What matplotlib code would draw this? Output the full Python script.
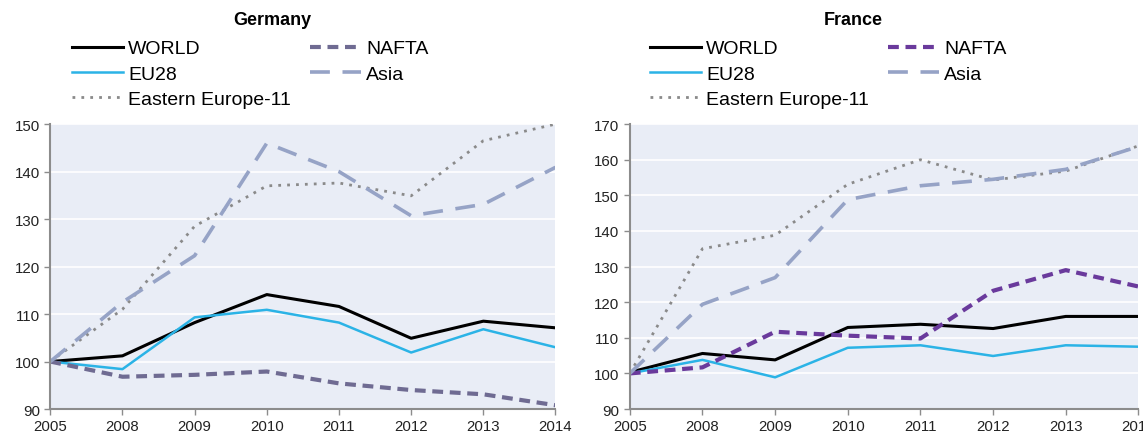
import matplotlib
matplotlib.use("Agg")
import matplotlib.pyplot as plt

plt.rcParams['font.family'] = ['Liberation Sans', 'DejaVu Sans']

years = ['2005', '2008', '2009', '2010', '2011', '2012', '2013', '2014']

# Germany
de_world = [100, 101.2, 108.2, 114.1, 111.6, 104.9, 108.5, 107.1]
de_eu28 = [100, 98.4, 109.3, 110.9, 108.2, 101.9, 106.8, 103.0]
de_nafta = [100, 96.8, 97.2, 97.9, 95.4, 94.0, 93.1, 90.8]
de_asia = [100, 112.5, 122.3, 146.0, 140.0, 130.7, 133.1, 140.9]
de_ee11 = [100, 111.0, 128.5, 137.0, 137.6, 134.9, 146.5, 150.0]

# France
fr_world = [100.3, 105.6, 103.8, 112.9, 113.8, 112.6, 116.0, 116.0]
fr_eu28 = [100, 103.8, 98.9, 107.2, 107.9, 104.9, 107.9, 107.5]
fr_nafta = [100, 101.7, 111.7, 110.6, 109.8, 123.2, 129.0, 124.4]
fr_asia = [100, 119.4, 126.9, 148.8, 152.7, 154.5, 157.3, 163.7]
fr_ee11 = [100, 135.0, 138.8, 153.1, 160.0, 154.3, 156.8, 163.9]

bg = '#e9edf6'
axis_col = '#8c8c8c'


def draw_panel(ax, title, world, eu28, nafta, asia, ee11, nafta_col, ylim, leg_x):
    x = list(range(len(years)))
    ax.set_facecolor(bg)
    ax.plot(x, world, color='black', lw=2.2, label='WORLD')
    ax.plot(x, eu28, color='#2bb3e6', lw=1.8, label='EU28')
    ax.plot(x, ee11, color='#8a8a8a', lw=2.0, linestyle=(0, (1, 2.2)), label='Eastern Europe-11')
    ax.plot(x, nafta, color=nafta_col, lw=3.0, linestyle=(0, (2.6, 1.6)), label='NAFTA')
    ax.plot(x, asia, color='#96a3c6', lw=2.6, linestyle=(0, (5.5, 3.5)), label='Asia')

    ax.set_xlim(0, len(years) - 1)
    ax.set_ylim(*ylim)
    ax.set_yticks(range(ylim[0], ylim[1] + 1, 10))
    ax.set_xticks(x)
    ax.set_xticklabels(years)
    ax.grid(axis='y', color='white', lw=1.2)
    ax.set_axisbelow(True)
    for s in ['top', 'right']:
        ax.spines[s].set_visible(False)
    for s in ['left', 'bottom']:
        ax.spines[s].set_color(axis_col)
        ax.spines[s].set_linewidth(1.5)
    ax.tick_params(axis='both', colors=axis_col, length=4, width=1, labelsize=10.8,
                   labelcolor='#222222')
    ax.set_title(title, fontsize=13, fontweight='bold', pad=72, x=0.44)
    ax.legend(ncol=2, loc='upper left', bbox_to_anchor=(leg_x, 0.925),
              bbox_transform=ax.figure.transFigure, frameon=False,
              fontsize=14, handlelength=2.6, handletextpad=0.27, labelspacing=0.4,
              columnspacing=1.0, borderaxespad=0)


fig = plt.figure(figsize=(11.43, 4.39), dpi=100)
ax1 = fig.add_axes([0.044, 0.066, 0.442, 0.649])
ax2 = fig.add_axes([0.551, 0.066, 0.445, 0.649])

draw_panel(ax1, 'Germany', de_world, de_eu28, de_nafta, de_asia, de_ee11, '#6f6b92', (90, 150), 0.0565)
draw_panel(ax2, 'France', fr_world, fr_eu28, fr_nafta, fr_asia, fr_ee11, '#6a3a9c', (90, 170), 0.562)

fig.savefig('out.png', dpi=100)
